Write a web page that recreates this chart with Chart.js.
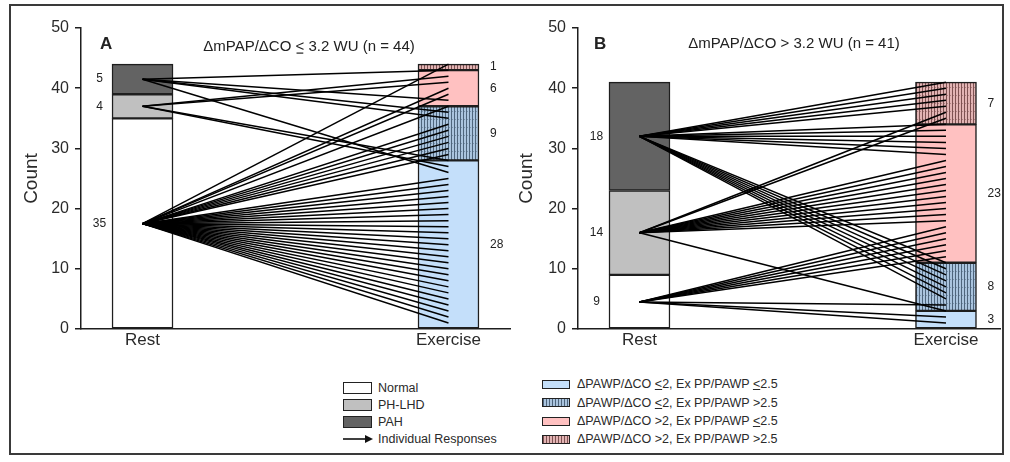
<!DOCTYPE html>
<html>
<head>
<meta charset="utf-8">
<script src="https://cdn.jsdelivr.net/npm/chart.js@4.4.1/dist/chart.umd.min.js"></script>
<style>
  body { margin: 0; background: #fff; font-family: "Liberation Sans", Arial, sans-serif; color: #222; }
  #wrap { position: relative; width: 1010px; height: 462px; overflow: hidden; }
  #frame { position: absolute; left: 9px; top: 4px; width: 995px; height: 451px; border: 2px solid #3a3a3a; box-sizing: border-box; }
  canvas { position: absolute; top: 0; }
  .sw { position: absolute; box-sizing: border-box; border: 1.5px solid #222; }
  .txt { position: absolute; font-size: 12.5px; line-height: 14px; white-space: nowrap; color: #2a2a2a; }
</style>
</head>
<body>
<div id="wrap">
  <div id="frame"></div>
  <canvas id="chartA" width="500" height="360" style="left:16px"></canvas>
  <canvas id="chartB" width="494" height="360" style="left:511px"></canvas>
  <div id="legend"></div>
</div>
<script>
const xLabels = ['Rest', 'Exercise'];
const restGroups = ['Normal', 'PH-LHD', 'PAH'];
const exerciseGroups = [
  'ΔPAWP/ΔCO ≤2, Ex PP/PAWP ≤2.5',
  'ΔPAWP/ΔCO ≤2, Ex PP/PAWP >2.5',
  'ΔPAWP/ΔCO >2, Ex PP/PAWP ≤2.5',
  'ΔPAWP/ΔCO >2, Ex PP/PAWP >2.5'
];
const yTicks = [0, 10, 20, 30, 40, 50];

// panel A
const restCountsA = [35, 4, 5];
const exerciseCountsA = [28, 9, 6, 1];
// rest group (0 Normal, 1 PH-LHD, 2 PAH) of each subject, bottom to top along the exercise bar
const responsesA = [
  0, 0, 0, 0, 0, 0, 0, 0, 0, 0, 0, 0, 0, 0, 0, 0, 0, 0, 0, 0, 0, 0, 0, 0, 0,
  2, 1, 1, 0, 0, 0, 0, 0, 0, 2, 2, 0, 2, 0, 0, 1, 1, 2, 0
];

// panel B
const restCountsB = [9, 14, 18];
const exerciseCountsB = [3, 8, 23, 7];
const responsesB = [
  0, 0, 1, 0, 2, 2, 2, 2, 2, 2, 2,
  0, 0, 0, 0, 0, 0, 1, 1, 1, 1, 1, 1, 1, 1, 1, 1, 1,
  2, 2, 2, 2, 2, 2, 1, 1, 2, 2, 2, 2, 2
];

function hatch(light, dark) {
  const c = document.createElement('canvas');
  c.width = 3; c.height = 8;
  const g = c.getContext('2d');
  g.fillStyle = light; g.fillRect(0, 0, 3, 8);
  g.fillStyle = dark; g.fillRect(0, 0, 1, 8);
  g.globalAlpha = 0.5; g.fillRect(1, 7, 1, 1);
  return g.createPattern(c, 'repeat');
}

const restColors = ['#ffffff', '#c0c0c0', '#636363'];
const exerciseColors = ['#c4dffa', hatch('#aac4de', '#4e657c'), '#ffc1c1', hatch('#e2b4b4', '#7e5252')];

function cumBase(counts) {
  let s = 0;
  return counts.map(n => { const b = s; s += n; return b; });
}

function drawLessEq(ctx, text, cx, y) {
  const parts = text.split('≤');
  const lw = ctx.measureText('<').width;
  let total = parts.reduce((a, p) => a + ctx.measureText(p).width, 0) + lw * (parts.length - 1);
  let x = cx - total / 2;
  ctx.textAlign = 'left';
  parts.forEach((p, i) => {
    if (i > 0) {
      ctx.fillText('<', x, y);
      ctx.fillRect(x + 1, y + 2, lw - 2, 1.2);
      x += lw;
    }
    ctx.fillText(p, x, y);
    x += ctx.measureText(p).width;
  });
}

const panelText = {
  id: 'panelText',
  afterDatasetsDraw(chart, args, o) {
    const { ctx, chartArea, scales: { x, y } } = chart;
    ctx.save();
    ctx.fillStyle = '#222';
    ctx.font = 'bold 17px "Liberation Sans", Arial, sans-serif';
    ctx.textBaseline = 'alphabetic';
    ctx.textAlign = 'left';
    ctx.fillText(o.letter, chartArea.left + o.letterX, 48.5);
    ctx.font = '15px "Liberation Sans", Arial, sans-serif';
    drawLessEq(ctx, o.title, chartArea.left + o.titleX, o.titleY);

    ctx.font = '12px "Liberation Sans", Arial, sans-serif';
    ctx.textBaseline = 'middle';
    const restPx = x.getPixelForValue(o.xPos[0]);
    const exPx = x.getPixelForValue(o.xPos[1]);
    ctx.textAlign = 'center';
    cumBase(o.rest).forEach((b, i) => {
      ctx.fillText(String(o.rest[i]), restPx - o.half - 12.5, y.getPixelForValue(b + o.rest[i] / 2));
    });
    ctx.textAlign = 'left';
    cumBase(o.ex).forEach((b, i) => {
      ctx.fillText(String(o.ex[i]), exPx + o.half + 11, y.getPixelForValue(b + o.ex[i] / 2));
    });
    ctx.restore();
  }
};

function makePanel(id, restCounts, exCounts, responses, cfg) {
  const restBase = cumBase(restCounts);
  const exBase = cumBase(exCounts);
  const restMid = restCounts.map((n, i) => restBase[i] + n / 2);
  const datasets = [];

  responses.forEach((g, i) => {
    datasets.push({
      type: 'line',
      data: [{ x: cfg.xPos[0], y: restMid[g] }, { x: cfg.xPos[1], y: i + 1 }],
      borderColor: '#000',
      borderWidth: 1.5,
      pointRadius: 0,
      fill: false,
      order: 0
    });
  });

  restCounts.forEach((n, i) => {
    datasets.push({
      type: 'bar',
      label: restGroups[i],
      data: [{ x: cfg.xPos[0], y: [restBase[i], restBase[i] + n] }],
      backgroundColor: restColors[i],
      borderColor: '#1e1e1e',
      borderWidth: 1.5,
      borderSkipped: false,
      barThickness: 61,
      grouped: false,
      order: 1
    });
  });
  exCounts.forEach((n, i) => {
    datasets.push({
      type: 'bar',
      label: exerciseGroups[i],
      data: [{ x: cfg.xPos[1], y: [exBase[i], exBase[i] + n] }],
      backgroundColor: exerciseColors[i],
      borderColor: '#1e1e1e',
      borderWidth: 1.5,
      borderSkipped: false,
      barThickness: 61,
      grouped: false,
      order: 1
    });
  });

  new Chart(document.getElementById(id), {
    type: 'bar',
    data: { datasets },
    plugins: [panelText],
    options: {
      responsive: false,
      animation: false,
      layout: { padding: { top: 28, right: cfg.padRight, bottom: 0, left: 0 } },
      plugins: {
        legend: { display: false },
        tooltip: { enabled: false },
        panelText: {
          letter: cfg.letter, letterX: cfg.letterX,
          title: cfg.title, titleX: cfg.titleX, titleY: cfg.titleY,
          xPos: cfg.xPos, half: 30.5,
          rest: restCounts, ex: exCounts
        }
      },
      scales: {
        x: {
          type: 'linear',
          min: 0,
          max: 100,
          offset: false,
          grid: { display: false, drawTicks: false },
          border: { display: true, color: '#1e1e1e', width: 1.5 },
          ticks: {
            autoSkip: false,
            maxRotation: 0,
            padding: 1,
            color: '#2a2a2a',
            font: { size: 17, family: '"Liberation Sans", Arial, sans-serif' },
            callback: (v, i) => xLabels[i]
          },
          afterBuildTicks(s) { s.ticks = cfg.xPos.map(v => ({ value: v })); },
          afterFit(s) { s.height = 31; }
        },
        y: {
          min: 0,
          max: 50,
          grid: { drawOnChartArea: false, drawTicks: true, tickLength: 6, color: '#1e1e1e', lineWidth: 1.5 },
          border: { display: true, color: '#1e1e1e', width: 1.5 },
          ticks: {
            padding: 6,
            color: '#2a2a2a',
            font: { size: 16, family: '"Liberation Sans", Arial, sans-serif' }
          },
          afterBuildTicks(s) { s.ticks = yTicks.map(v => ({ value: v })); },
          title: {
            display: true,
            text: 'Count',
            color: '#2a2a2a',
            font: { size: 19, family: '"Liberation Sans", Arial, sans-serif' },
            padding: { top: 4, bottom: 0 }
          },
          afterFit(s) { s.width = cfg.yWidth; }
        }
      }
    }
  });
}

makePanel('chartA', restCountsA, exerciseCountsA, responsesA, {
  yWidth: 65, padRight: 6, xPos: [14.34, 85.66],
  letter: 'A', letterX: 19,
  title: 'ΔmPAP/ΔCO ≤ 3.2 WU (n = 44)', titleX: 228, titleY: 50.5
});
makePanel('chartB', restCountsB, exerciseCountsB, responsesB, {
  yWidth: 67, padRight: 5, xPos: [14.57, 87.2],
  letter: 'B', letterX: 16,
  title: 'ΔmPAP/ΔCO > 3.2 WU (n = 41)', titleX: 216, titleY: 47.5
});

// legend
const legend = document.getElementById('legend');
function addSwatch(left, top, w, h, bg) {
  const d = document.createElement('div');
  d.className = 'sw';
  Object.assign(d.style, { left: left + 'px', top: top + 'px', width: w + 'px', height: h + 'px', background: bg });
  legend.appendChild(d);
}
function addText(left, centerY, html) {
  const d = document.createElement('div');
  d.className = 'txt';
  d.style.left = left + 'px';
  d.style.top = (centerY - 7) + 'px';
  d.innerHTML = html;
  legend.appendChild(d);
}
const restRows = [387.5, 404.5, 421.5];
restGroups.forEach((name, i) => {
  addSwatch(343, restRows[i] - 6, 29, 12, restColors[i]);
  addText(378, restRows[i], name);
});
const arrow = document.createElementNS('http://www.w3.org/2000/svg', 'svg');
arrow.setAttribute('width', '32'); arrow.setAttribute('height', '12');
Object.assign(arrow.style, { position: 'absolute', left: '343px', top: '433px' });
arrow.innerHTML = '<line x1="0" y1="6" x2="24" y2="6" stroke="#111" stroke-width="1.6"/><polygon points="22,2 30,6 22,10" fill="#111"/>';
legend.appendChild(arrow);
addText(378, 439, 'Individual Responses');

const exCss = [
  '#c4dffa',
  'repeating-linear-gradient(90deg, #4e657c 0 1px, #aac4de 1px 3px)',
  '#ffc1c1',
  'repeating-linear-gradient(90deg, #7e5252 0 1px, #e2b4b4 1px 3px)'
];
const exRows = [384, 402.5, 421, 439];
exerciseGroups.forEach((name, i) => {
  addSwatch(542, exRows[i] - 4.5, 27.5, 9, exCss[i]);
  const html = name.replace(/>/g, '&gt;').replace(/≤/g, '<u>&lt;</u>');
  addText(577, exRows[i], html);
});
</script>
</body>
</html>
